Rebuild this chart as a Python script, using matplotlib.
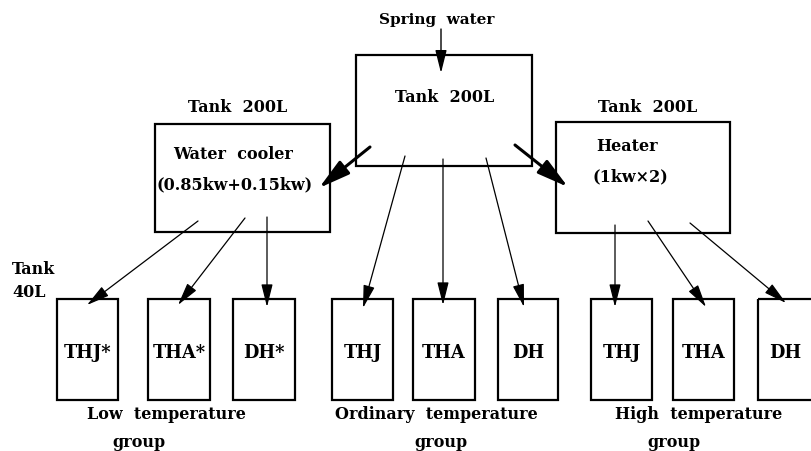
import matplotlib.pyplot as plt
from matplotlib.patches import Rectangle

# layout in pixel units of the 812x452 picture (y grows downward)
big_boxes = [[356, 56, 532, 167], [155, 125, 330, 233], [556, 123, 730, 234]]
small_names = ["THJ*", "THA*", "DH*", "THJ", "THA", "DH", "THJ", "THA", "DH"]
small_left = [57, 148, 233, 332, 413, 498, 591, 673, 758]
small_right = [118, 210, 295, 393, 475, 558, 652, 734, 822]
small_top = 300
small_bottom = 401

groups = ["Low  temperature", "Ordinary  temperature", "High  temperature"]
group_x = [166, 436, 699]
group_word_x = [139, 441, 674]

# thin arrows: start -> tip
thin_start = [(198, 222), (245, 219), (267, 218), (405, 157), (443, 160),
              (486, 159), (615, 226), (648, 222), (690, 224)]
thin_end = [(87, 306), (178, 306), (267, 308), (363, 309), (443, 306),
            (524, 308), (615, 308), (706, 308), (786, 304)]
thick_start = [(370, 148), (515, 146)]
thick_end = [(319, 189), (568, 188)]

font = dict(family="DejaVu Serif", fontweight="bold", color="black")
thin_head = "-|>,head_length=1.4,head_width=0.35"
thick_head = "-|>,head_length=1.9,head_width=0.5"

fig = plt.figure(figsize=(8.12, 4.52), dpi=100)
ax = fig.add_axes([0, 0, 1, 1])
ax.set_xlim(0, 812)
ax.set_ylim(452, 0)
ax.axis("off")

for x0, y0, x1, y1 in big_boxes:
    ax.add_patch(Rectangle((x0, y0), x1 - x0, y1 - y0, fill=False,
                           lw=1.6, ec="black"))

for i in range(len(small_names)):
    ax.add_patch(Rectangle((small_left[i], small_top), small_right[i] - small_left[i],
                           small_bottom - small_top, fill=False, lw=1.6, ec="black"))
    cx = (small_left[i] + small_right[i]) / 2 if i < 8 else 785
    ax.text(cx, 353, small_names[i], ha="center", va="center", fontsize=12.8, **font)

for s, e in zip(thin_start, thin_end):
    ax.annotate("", xy=e, xytext=s,
                arrowprops=dict(arrowstyle=thin_head, lw=0.9, color="black",
                                mutation_scale=10, shrinkA=0, shrinkB=0))
for s, e in zip(thick_start, thick_end):
    ax.annotate("", xy=e, xytext=s,
                arrowprops=dict(arrowstyle=thick_head, lw=2.2, color="black",
                                mutation_scale=10, shrinkA=0, shrinkB=0))

# spring water inlet
ax.annotate("", xy=(441, 74), xytext=(441, 30),
            arrowprops=dict(arrowstyle=thin_head, lw=1.0, color="black",
                            mutation_scale=10, shrinkA=0, shrinkB=0))
ax.text(437, 20, "Spring  water", ha="center", va="center", fontsize=11, **font)

ax.text(445, 97, "Tank  200L", ha="center", va="center", fontsize=11.5, **font)
ax.text(238, 107, "Tank  200L", ha="center", va="center", fontsize=11.5, **font)
ax.text(648, 107, "Tank  200L", ha="center", va="center", fontsize=11.5, **font)
ax.text(233, 155, "Water  cooler", ha="center", va="center", fontsize=11.5, **font)
ax.text(235, 185, "(0.85kw+0.15kw)", ha="center", va="center", fontsize=11.5, **font)
ax.text(627, 147, "Heater", ha="center", va="center", fontsize=11.5, **font)
ax.text(630, 177, "(1kw\u00d72)", ha="center", va="center", fontsize=11.5, **font)

ax.text(12, 270, "Tank", ha="left", va="center", fontsize=11.5, **font)
ax.text(12, 293, "40L", ha="left", va="center", fontsize=11.5, **font)

for i in range(3):
    ax.text(group_x[i], 415, groups[i], ha="center", va="center", fontsize=11.5, **font)
    ax.text(group_word_x[i], 443, "group", ha="center", va="center", fontsize=11.5, **font)

fig.savefig("out.png", dpi=100, facecolor="white")
